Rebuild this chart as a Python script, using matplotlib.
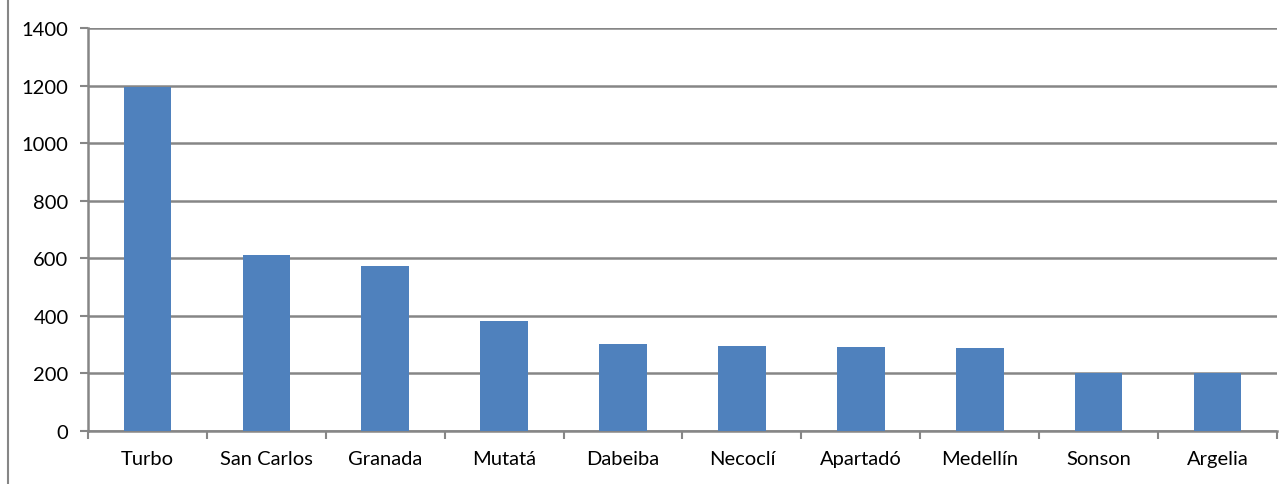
import numpy as np
import matplotlib.pyplot as plt
from matplotlib.lines import Line2D

plt.rcParams['font.family'] = ['Lato', 'DejaVu Sans']

municipios = ['Turbo', 'San Carlos', 'Granada', 'Mutatá', 'Dabeiba',
              'Necoclí', 'Apartadó', 'Medellín', 'Sonson', 'Argelia']
valores = [1195, 612, 575, 382, 303, 296, 293, 288, 203, 201]
y_ticks = [0, 200, 400, 600, 800, 1000, 1200, 1400]

grey = '#868686'
fig = plt.figure(figsize=(12.87, 4.85), dpi=100)
ax = fig.add_axes([0.0684, 0.1093, 0.9238, 0.8307])

x = np.arange(len(municipios))
ax.bar(x, valores, width=0.4, color='#4F81BD', zorder=3)

ax.set_xlim(-0.5, len(municipios) - 0.5)
ax.set_ylim(0, 1400)
ax.set_yticks(y_ticks)
ax.set_yticklabels([str(v) for v in y_ticks])
ax.set_xticks(x)
ax.set_xticklabels(municipios)
ax.set_xticks(np.arange(len(municipios) + 1) - 0.5, minor=True)

ax.grid(axis='y', color=grey, linewidth=1.8, zorder=0)
ax.tick_params(axis='x', which='major', length=0, pad=14, labelsize=14.5)
ax.tick_params(axis='x', which='minor', length=6, width=1.5, color=grey)
ax.tick_params(axis='y', length=6, width=1.5, color=grey, pad=8, labelsize=14.5)

for s in ['top', 'right']:
    ax.spines[s].set_visible(False)
for s in ['left', 'bottom']:
    ax.spines[s].set_color(grey)
    ax.spines[s].set_linewidth(1.8)

# frame line on the left edge
fig.add_artist(Line2D([0.0066, 0.0066], [0, 1], color=grey, linewidth=1.5,
                      transform=fig.transFigure))

fig.savefig('out.png', dpi=100)
